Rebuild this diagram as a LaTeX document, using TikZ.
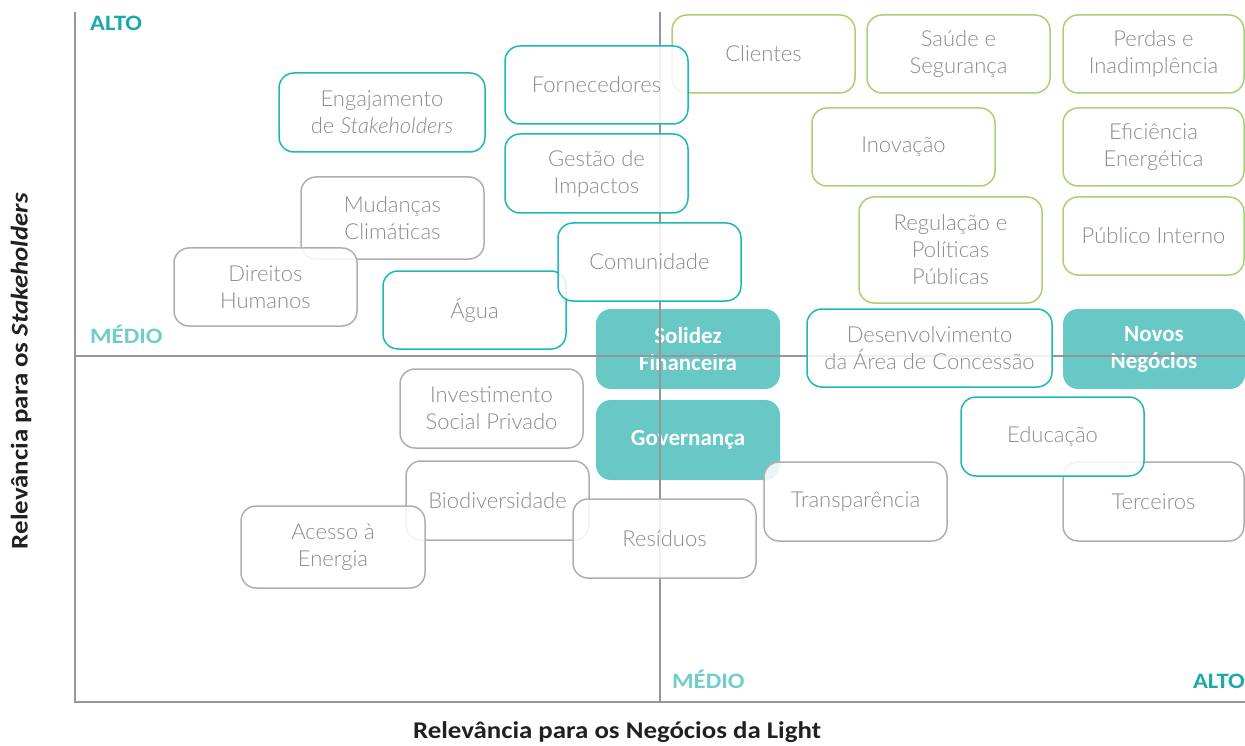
\documentclass[tikz,border=0pt]{standalone}
\usepackage{fontspec}
\setmainfont{Carlito}[FakeStretch=1.12]
\newfontfamily\boxfont{Lato Light}
\newfontfamily\fillfont{Carlito}
\definecolor{tealline}{RGB}{28,184,184}
\definecolor{greenline}{RGB}{168,210,113}
\definecolor{grayline}{RGB}{175,175,175}
\definecolor{tealfill}{RGB}{104,200,198}
\definecolor{boxtext}{RGB}{140,140,140}
\definecolor{axisline}{RGB}{150,150,150}
\definecolor{altocol}{RGB}{26,170,168}
\definecolor{mediocol}{RGB}{112,205,203}
\definecolor{labeltext}{RGB}{35,31,32}
\tikzset{
  x=1pt, y=-1pt,
  basebox/.style={rounded corners=15pt, line width=1.5pt, fill=white, fill opacity=0.85, text opacity=1,
    align=center, text=boxtext, inner sep=0pt,
    font=\boxfont\fontsize{22}{27}\selectfont, minimum width=183pt, minimum height=78pt},
  tbox/.style={basebox, draw=tealline},
  gbox/.style={basebox, draw=greenline},
  ybox/.style={basebox, draw=grayline},
  fbox/.style={rounded corners=15pt, fill=tealfill, draw=none, align=center, text=white, inner sep=0pt,
    font=\fillfont\bfseries\fontsize{23}{27}\selectfont, minimum width=184pt, minimum height=80pt},
  axis/.style={draw=axisline, line width=1.5pt},
  levalto/.style={text=altocol, font=\bfseries\fontsize{22}{24}\selectfont, inner sep=0pt},
  levmedio/.style={text=mediocol, font=\bfseries\fontsize{22}{24}\selectfont, inner sep=0pt},
  axlabel/.style={text=labeltext, font=\bfseries\fontsize{24}{26}\selectfont, inner sep=0pt}
}
\begin{document}
\begin{tikzpicture}
\useasboundingbox (0,0) rectangle (1245,746);
% filled boxes
\node[fbox] (solidez) at (688,349) {Solidez\\Financeira};
\node[fbox, minimum width=182pt] (novos) at (1154,349) {Novos\\Negócios};
\node[fbox] (governanca) at (688,440) {Governança};
% axes
\coordinate (tl) at (75,12);
\coordinate (bl) at (75,702);
\coordinate (br) at (1245,702);
\coordinate (mt) at (660,12);
\coordinate (mb) at (660,702);
\coordinate (ml) at (75,356);
\coordinate (mr) at (1245,356);
\draw[axis] (tl) -- (bl) -- (br);
\draw[axis] (mt) -- (mb);
\draw[axis] (ml) -- (mr);
% outlined boxes
\node[gbox] (clientes) at (763.5,54) {Clientes};
\node[gbox] (saude) at (958.5,54) {Saúde e\\Segurança};
\node[gbox, minimum width=181pt] (perdas) at (1153.5,54) {Perdas e\\Inadimplência};
\node[gbox] (inovacao) at (903.5,147) {Inovação};
\node[gbox, minimum width=181pt] (eficiencia) at (1153.5,147) {Eficiência\\Energética};
\node[gbox, minimum height=106pt] (regulacao) at (950.5,250) {Regulação e\\Políticas\\Públicas};
\node[gbox, minimum width=181pt] (publico) at (1153.5,236) {Público Interno};
\node[tbox, minimum width=206pt, minimum height=79pt] (engajamento) at (382,112.5) {Engajamento\\de \textit{Stakeholders}};
\node[tbox] (fornecedores) at (596.5,85) {Fornecedores};
\node[tbox, minimum height=79pt] (gestao) at (596.5,173.5) {Gestão de\\Impactos};
\node[ybox, minimum height=82pt] (mudancas) at (392.5,218) {Mudanças\\Climáticas};
\node[ybox] (direitos) at (265.5,287) {Direitos\\Humanos};
\node[tbox] (agua) at (474.5,310) {Água};
\node[tbox] (comunidade) at (649.5,262) {Comunidade};
\node[tbox, minimum width=245pt] (desenv) at (929.5,348) {Desenvolvimento\\da Área de Concessão};
\node[ybox, minimum height=79pt] (investimento) at (491.5,408.5) {Investimento\\Social Privado};
\node[ybox, minimum height=79pt] (biodiversidade) at (497.5,500.5) {Biodiversidade};
\node[ybox, minimum width=184pt, minimum height=82pt] (acesso) at (333,547) {Acesso à\\Energia};
\node[ybox, minimum height=79pt] (residuos) at (664.5,538.5) {Resíduos};
\node[ybox, minimum height=79pt] (transparencia) at (855.5,501.5) {Transparência};
\node[ybox, minimum width=181pt, minimum height=79pt] (terceiros) at (1153.5,501.5) {Terceiros};
\node[tbox, minimum height=79pt] (educacao) at (1052.5,436.5) {Educação};
% level labels
\node[levalto, anchor=base west] (altoy) at (90,31) {ALTO};
\node[levmedio, anchor=base west] (medioy) at (90,343) {MÉDIO};
\node[levmedio, anchor=base west] (mediox) at (672,688) {MÉDIO};
\node[levalto, anchor=base east] (altox) at (1245,688) {ALTO};
% axis titles
\node[axlabel, anchor=base] (xlabel) at (617,738) {Relevância para os Negócios da Light};
\node[axlabel, rotate=90] (ylabel) at (21,371) {Relevância para os \textit{Stakeholders}};
\end{tikzpicture}
\end{document}
